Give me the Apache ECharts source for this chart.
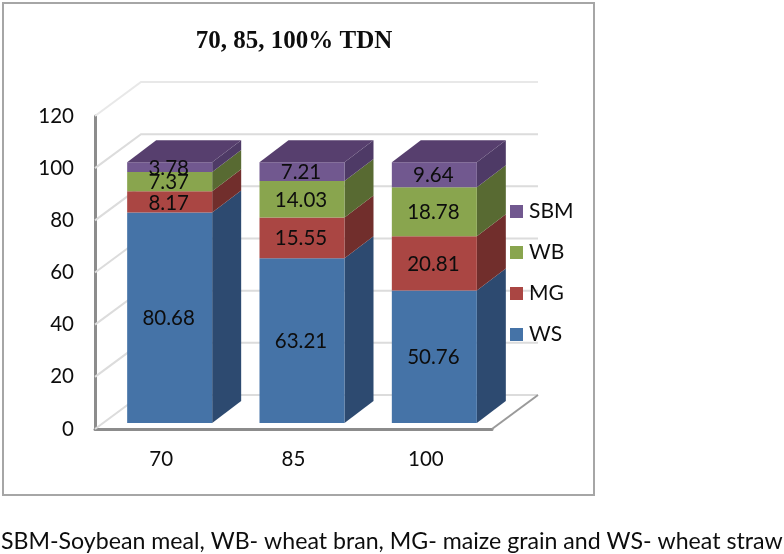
<!DOCTYPE html>
<html>
<head>
<meta charset="utf-8">
<style>html,body{margin:0;padding:0;background:#fff}#c{width:784px;height:554px}</style>
<script src="https://cdn.jsdelivr.net/npm/echarts@6/dist/echarts.min.js"></script>
</head>
<body>
<div id="c"></div>
<script>
const categories = ['70', '85', '100'];
const seriesNames = ['WS', 'MG', 'WB', 'SBM'];
const WS = [80.68, 63.21, 50.76];
const MG = [8.17, 15.55, 20.81];
const WB = [7.37, 14.03, 18.78];
const SBM = [3.78, 7.21, 9.64];
const yTicks = [0, 20, 40, 60, 80, 100, 120];
const frontColors = ['#4573a7', '#aa4643', '#89a54e', '#71588f'];
const sideColors = ['#2d4a70', '#712e2c', '#586a32', '#4e3a66'];
const topColor = '#573f6e';

const values = [WS, MG, WB, SBM];
const wallDX = 46, wallDY = -34;
const barShiftX = 8.5, barShiftY = -6;
const sideDX = 29, sideDY = -22;
const barWidth = 85;
const labelFont = 'Lato, "Open Sans", sans-serif';

function wallItem(params, api) {
  const v = api.value(0);
  const L = api.coord([0, v]);
  const left = params.coordSys.x;
  const right = left + params.coordSys.width;
  const y = L[1];
  const children = [{
    type: 'polyline',
    shape: {points: [[left, y], [left + wallDX, y + wallDY], [right + wallDX, y + wallDY]]},
    style: {stroke: v === 120 ? '#e8e8e8' : '#dcdcdc', lineWidth: 2, fill: null}
  }];
  if (v === 0) {
    children.push({
      type: 'polyline',
      shape: {points: [[right, y], [right + wallDX, y + wallDY]]},
      style: {stroke: '#9a9a9a', lineWidth: 2, fill: null}
    });
  }
  return {type: 'group', children};
}

function barItem(s) {
  return function (params, api) {
    const cat = api.value(0), base = api.value(1), top = api.value(2), val = api.value(3);
    const pb = api.coord([cat, base]);
    const pt = api.coord([cat, top]);
    const x0 = pb[0] - barWidth / 2 + barShiftX, x1 = x0 + barWidth;
    const yb = pb[1] + barShiftY, yt = pt[1] + barShiftY;
    const children = [
      {type: 'polygon',
       shape: {points: [[x1, yb], [x1 + sideDX, yb + sideDY], [x1 + sideDX, yt + sideDY], [x1, yt]]},
       style: {fill: sideColors[s]}},
      {type: 'rect', shape: {x: x0, y: yt, width: barWidth, height: yb - yt},
       style: {fill: frontColors[s]}}
    ];
    if (s === values.length - 1) {
      children.push({type: 'polygon',
        shape: {points: [[x0, yt], [x1, yt], [x1 + sideDX, yt + sideDY], [x0 + sideDX, yt + sideDY]]},
        style: {fill: topColor}});
    }
    children.push({type: 'text', z2: 100,
      style: {x: (x0 + x1) / 2 - 1, y: (yt + yb) / 2 + 1, text: String(val), align: 'center', verticalAlign: 'middle',
              fill: '#0d0d0d', fontFamily: labelFont, fontSize: 20.5}});
    return {type: 'group', children};
  };
}

const barSeries = seriesNames.map(function (name, s) {
  const data = categories.map(function (c, i) {
    let base = 0;
    for (let k = 0; k < s; k++) base += values[k][i];
    return [i, base, base + values[s][i], values[s][i]];
  });
  return {
    name, type: 'custom', coordinateSystem: 'cartesian2d', z: 3,
    itemStyle: {color: frontColors[s]},
    renderItem: barItem(s), data, clip: false,
    encode: {x: 0, y: 2}
  };
});

const chart = echarts.init(document.getElementById('c'), null, {renderer: 'canvas'});
chart.setOption({
  animation: false,
  backgroundColor: '#fff',
  title: {
    text: '70, 85, 100% TDN', left: 289, top: 24, textAlign: 'center',
    textStyle: {fontFamily: '"Liberation Serif", serif', fontWeight: 'bold', fontSize: 25, color: '#0d0d0d'}
  },
  graphic: [
    {type: 'rect', z: -1, shape: {x: 3, y: 3, width: 591, height: 492},
     style: {fill: 'none', stroke: '#a6a6a6', lineWidth: 2}},
    {type: 'text', left: 1, top: 530,
     style: {text: 'SBM-Soybean meal, WB- wheat bran, MG- maize grain and WS- wheat straw',
             fontFamily: labelFont, fontSize: 23.15, fill: '#0d0d0d'}}
  ],
  legend: {
    orient: 'vertical', left: 510, top: 201, padding: 0, itemWidth: 13, itemHeight: 13, itemGap: 20,
    icon: 'rect', data: ['SBM', 'WB', 'MG', 'WS'], selectedMode: false,
    textStyle: {fontFamily: labelFont, fontSize: 21, color: '#0d0d0d', padding: [0, 0, 0, 1]}
  },
  grid: {left: 95, top: 116, width: 397, height: 313},
  xAxis: {
    type: 'category', data: categories,
    axisLine: {show: true, lineStyle: {color: '#8c8c8c', width: 3}},
    axisTick: {show: false},
    axisLabel: {fontFamily: labelFont, fontSize: 20.5, color: '#0d0d0d', margin: 20},
    splitLine: {show: false}
  },
  yAxis: {
    type: 'value', min: 0, max: 120, interval: 20,
    axisLine: {show: true, lineStyle: {color: '#8c8c8c', width: 3}},
    axisTick: {show: false},
    axisLabel: {fontFamily: labelFont, fontSize: 20.5, color: '#0d0d0d', margin: 21, padding: [4, 0, 0, 0]},
    splitLine: {show: false}
  },
  series: [{
    type: 'custom', coordinateSystem: 'cartesian2d', z: 1, silent: true, clip: false,
    renderItem: wallItem, data: yTicks.map(function (t) { return [t]; }),
    encode: {y: 0}, legendHoverLink: false
  }].concat(barSeries)
});
</script>
</body>
</html>
